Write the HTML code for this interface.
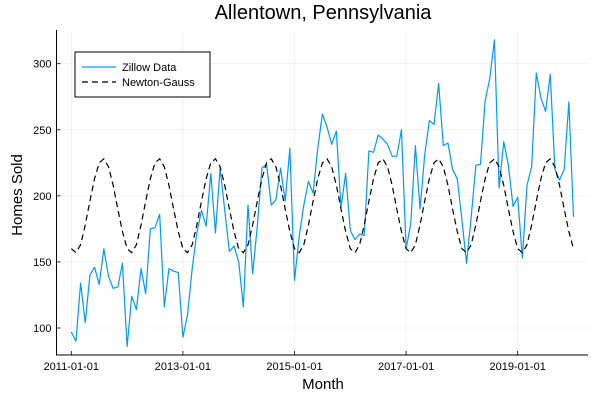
<!DOCTYPE html>
<html><head><meta charset="utf-8"><style>
html,body{margin:0;padding:0;background:#fff;}
svg{display:block;font-family:"Liberation Sans","DejaVu Sans",sans-serif;}
</style></head><body>
<svg id="chart" width="600" height="400" viewBox="0 0 600 400">
<rect width="600" height="400" fill="#fff"/>
<text x="323" y="19" font-size="20" text-anchor="middle" fill="#000">Allentown, Pennsylvania</text>
<g id="grid"></g>
<g id="axes"></g>
<g id="series"></g>
<text x="323" y="389" font-size="15" text-anchor="middle">Month</text>
<text x="22" y="195" font-size="15" text-anchor="middle" transform="rotate(-90 22 195)">Homes Sold</text>
<g>
<rect x="75" y="52" width="135" height="45" fill="#fff" stroke="#000" stroke-width="1"/>
<line x1="82" y1="67" x2="116" y2="67" stroke="#009af9" stroke-width="1.2"/>
<text x="122" y="71" font-size="11">Zillow Data</text>
<line x1="82" y1="82" x2="116" y2="82" stroke="#000" stroke-width="1.2" stroke-dasharray="6,4"/>
<text x="122" y="86" font-size="11">Newton-Gauss</text>
</g>
</svg>
<script>
const zillow = [97,90,134,104,140,146,133,160,139,130,131,149,86,124,114,145,126,175,176,186,116,145,143,142,93,110,145,172,189,177,217,172,221,189,158,162,150,116,193,141,177,221,224,193,197,221,196,236,136,169,193,211,202,236,262,252,239,249,191,217,174,167,171,170,234,233,246,243,239,230,230,250,160,179,238,190,231,257,254,285,238,240,220,213,182,149,184,223,224,272,289,318,206,241,223,192,199,153,208,222,293,274,264,292,220,212,220,271,184];
const fit = [160,157,163,178,196,213,225,228,222,208,190,173,160,157,163,178,196,213,225,228,222,208,190,173,160,157,163,178,196,213,225,228,222,208,190,173,160,157,163,178,196,213,225,228,222,208,190,173,160,157,163,178,196,213,225,228,222,208,190,173,160,157,163,178,196,213,225,228,222,208,190,173,160,157,163,178,196,213,225,228,222,208,190,173,160,157,163,178,196,213,225,228,222,208,190,173,160,157,163,178,196,213,225,228,222,208,190,173,160];
const yTicks = [100,150,200,250,300];
const xTickMonths = [0,24,48,72,96];
const xTickLabels = ["2011-01-01","2013-01-01","2015-01-01","2017-01-01","2019-01-01"];

const X0=56.5, X1=588, Y0=30, Y1=355;
function xs(m){return 71.3+m*4.65;}
function ys(v){return 328-(v-100)*1.3215;}
const NS="http://www.w3.org/2000/svg";
function mk(tag,attrs,parent){const e=document.createElementNS(NS,tag);for(const k in attrs)e.setAttribute(k,attrs[k]);parent.appendChild(e);return e;}
const grid=document.getElementById('grid'), axes=document.getElementById('axes'), series=document.getElementById('series');
yTicks.forEach(v=>{
  const l=mk('line',{x1:X0,x2:X1,y1:ys(v),y2:ys(v),stroke:'#000','stroke-opacity':0.08,'stroke-width':0.6},grid);
  
  
  const t=mk('line',{x1:X0,x2:X0+4,y1:ys(v),y2:ys(v),stroke:'#000','stroke-width':0.8},axes);
  
  
  const tx=mk('text',{x:X0-5,y:ys(v)+4,'font-size':11,'text-anchor':'end'},axes);
  tx.textContent=v;
  
  
});
xTickMonths.forEach((m,i)=>{
  const l=mk('line',{x1:xs(m),x2:xs(m),y1:Y0,y2:Y1,stroke:'#000','stroke-opacity':0.08,'stroke-width':0.6},grid);
  
  
  const t=mk('line',{x1:xs(m),x2:xs(m),y1:Y1,y2:Y1-4,stroke:'#000','stroke-width':0.8},axes);
  
  
  const tx=mk('text',{x:xs(m),y:Y1+15,'font-size':11,'text-anchor':'middle'},axes);
  tx.textContent=xTickLabels[i];
  
  
});
const ax=mk('path',{d:`M${X0},${Y0} V${Y1} H${X1}`,fill:'none',stroke:'#000','stroke-width':1},axes);


const zl=mk('polyline',{points:zillow.map((v,i)=>xs(i)+','+ys(v)).join(' '),fill:'none',stroke:'#009af9','stroke-width':1.2,'stroke-linejoin':'round'},series);


const fl=mk('polyline',{points:fit.map((v,i)=>xs(i)+','+ys(v)).join(' '),fill:'none',stroke:'#000','stroke-width':1.2,'stroke-dasharray':'6,4'},series);


</script>
</body></html>
